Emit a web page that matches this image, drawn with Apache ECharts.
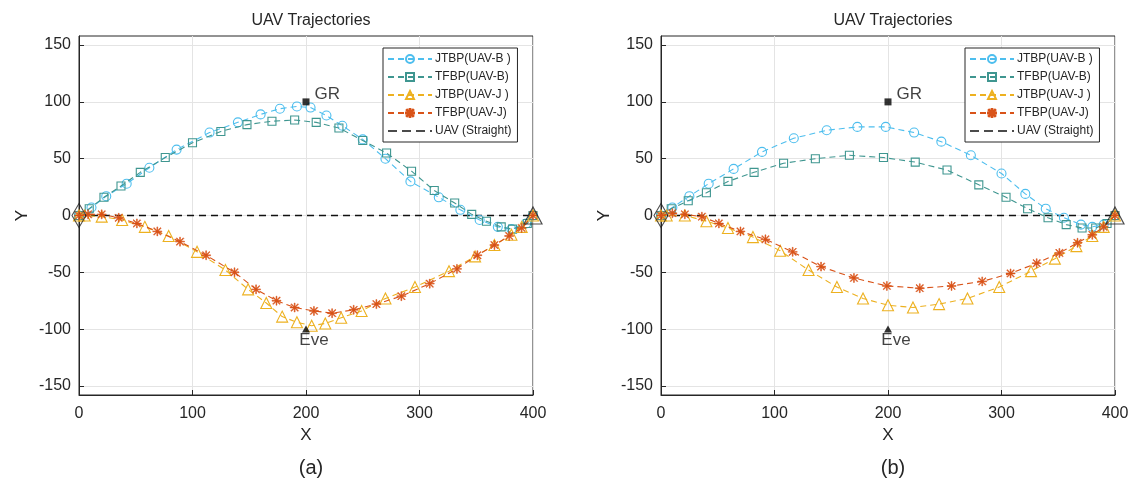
<!DOCTYPE html>
<html>
<head>
<meta charset="utf-8">
<script src="https://cdn.jsdelivr.net/npm/echarts@6/dist/echarts.min.js"></script>
<style>html,body{margin:0;padding:0;background:#fff}#c{width:1134px;height:487px}</style>
</head>
<body>
<div id="c"></div>
<script>
// ---- data ----
var seriesNames = ['JTBP(UAV-B )', 'TFBP(UAV-B)', 'JTBP(UAV-J )', 'TFBP(UAV-J)', 'UAV (Straight)'];
var xTicks = [0, 100, 200, 300, 400];
var yTicks = [-150, -100, -50, 0, 50, 100, 150];
var panelLabels = ['(a)', '(b)'];

// panel (a)
var jtbpB_a = [[0,0],[11,7],[24,17],[42,28],[62,42],[86,58],[115,73],[140,82],[160,89],[177,94],[192,96],[204,95],[218,88],[232,79],[250,67],[270,50],[292,30],[317,16],[336,5],[353,-4],[369,-10],[381,-12],[394,-7],[400,0]];
var tfbpB_a = [[0,0],[9,6],[22,16],[37,26],[54,38],[76,51],[100,64],[125,74],[148,80],[170,83],[190,84],[209,82],[229,77],[250,66],[271,55],[293,39],[313,22],[331,11],[346,1],[359,-5],[372,-10],[382,-12],[395,-7],[400,0]];
var jtbpJ_a = [[0,0],[5,0],[20,-1],[38,-4],[58,-10],[79,-18],[104,-32],[129,-48],[149,-65],[165,-77],[179,-89],[192,-94],[205,-97],[217,-95],[231,-90],[249,-84],[270,-73],[296,-63],[326,-49],[349,-36],[366,-26],[381,-17],[390,-10],[400,0]];
var tfbpJ_a = [[0,0],[8,1],[20,1],[35,-2],[51,-7],[69,-14],[89,-23],[112,-35],[137,-50],[156,-65],[174,-75],[190,-81],[207,-84],[223,-86],[242,-83],[262,-78],[284,-71],[309,-60],[333,-47],[351,-35],[366,-26],[379,-18],[390,-11],[400,0]];

// panel (b)
var jtbpB_b = [[0,0],[10,7],[25,17],[42,28],[64,41],[89,56],[117,68],[146,75],[173,78],[198,78],[223,73],[247,65],[273,53],[300,37],[321,19],[339,6],[355,-2],[370,-8],[380,-10],[390,-8],[400,0]];
var tfbpB_b = [[0,0],[9,6],[24,13],[40,20],[59,30],[82,38],[108,46],[136,50],[166,53],[196,51],[224,47],[252,40],[280,27],[304,16],[323,6],[341,-2],[357,-8],[371,-11],[383,-11],[393,-7],[400,0]];
var jtbpJ_b = [[0,0],[5,0],[21,0],[40,-5],[59,-11],[81,-19],[105,-31],[130,-48],[155,-63],[178,-73],[200,-79],[222,-81],[245,-78],[270,-73],[298,-63],[326,-49],[347,-38],[366,-27],[380,-18],[390,-10],[400,0]];
var tfbpJ_b = [[0,0],[10,2],[21,1],[36,-1],[51,-7],[70,-14],[92,-21],[116,-32],[141,-45],[170,-55],[199,-62],[228,-64],[256,-62],[283,-58],[308,-51],[331,-42],[351,-33],[367,-24],[380,-17],[390,-10],[400,0]];

var straightLine = [[0,0],[400,0]];
var startPoint = [[0,0]];
var endPoint = [[400,0]];
var grPoint = [[200,100]];
var evePoint = [[200,-100]];

// ---- styling ----
var colors = ['#4DBEEE', '#3f9690', '#EDB120', '#D95319', '#1a1a1a'];
var symbols = ['circle', 'rect', 'triangle', 'path://M9 0L11 0L11 20L9 20ZM0 9L20 9L20 11L0 11ZM1.4 2.8L2.8 1.4L18.6 17.2L17.2 18.6ZM17.2 1.4L18.6 2.8L2.8 18.6L1.4 17.2Z', 'none'];
var symSizes = [9, 8, 11, 9, 0];
var txt = '#262626';
var font = 'Liberation Sans, Arial, Helvetica, sans-serif';
var dashIcon = 'path://M0 0L0.01 0L0 0.01ZM0 10L0.01 10L0 9.99ZM0 4.3L9 4.3L9 5.7L0 5.7ZM14 4.3L23 4.3L23 5.7L14 5.7ZM28 4.3L37 4.3L37 5.7L28 5.7ZM42 4.3L44 4.3L44 5.7L42 5.7ZM44 0L44 0.01L43.99 0Z';

var panels = [
  {left: 79, data: [jtbpB_a, tfbpB_a, jtbpJ_a, tfbpJ_a]},
  {left: 661, data: [jtbpB_b, tfbpB_b, jtbpJ_b, tfbpJ_b]}
];
var gridTop = 36, gridH = 359, gridW = 454;

var legendData = seriesNames.map(function (n, k) {
  return k === 4 ? {name: n, icon: dashIcon} : {name: n};
});

var grids = [], xAxes = [], yAxes = [], series = [], legends = [], titles = [];
panels.forEach(function (p, i) {
  grids.push({left: p.left, top: gridTop, width: gridW, height: gridH, show: true, borderColor: txt, borderWidth: 1, backgroundColor: '#fff'});
  xAxes.push({
    type: 'value', gridIndex: i, min: 0, max: 400, interval: 100,
    name: 'X', nameLocation: 'middle', nameGap: 32,
    nameTextStyle: {color: txt, fontSize: 17, fontFamily: font},
    axisLine: {show: true, onZero: false, lineStyle: {color: txt}},
    axisTick: {show: true, inside: true, length: 5, lineStyle: {color: txt}},
    axisLabel: {color: txt, fontSize: 16, fontFamily: font, margin: 11},
    splitLine: {show: true, lineStyle: {color: '#e4e4e4', width: 1}}
  });
  yAxes.push({
    type: 'value', gridIndex: i, min: -158, max: 158,
    name: 'Y', nameLocation: 'middle', nameGap: 48, nameRotate: 90,
    nameTextStyle: {color: txt, fontSize: 17, fontFamily: font},
    axisLine: {show: true, onZero: false, lineStyle: {color: txt}},
    axisTick: {show: true, inside: true, length: 5, lineStyle: {color: txt}, customValues: yTicks},
    axisLabel: {color: txt, fontSize: 16, fontFamily: font, margin: 8, customValues: yTicks, showMinLabel: true, showMaxLabel: true},
    splitLine: {show: true, lineStyle: {color: '#e4e4e4', width: 1}}
  });
  titles.push({text: 'UAV Trajectories', left: p.left + gridW / 2, top: 8, textAlign: 'center',
    textStyle: {color: txt, fontSize: 16, fontWeight: 'normal', fontFamily: font}});
  titles.push({text: panelLabels[i], left: p.left + gridW / 2, top: 453, textAlign: 'center',
    textStyle: {color: txt, fontSize: 20, fontWeight: 'normal', fontFamily: font}});
  legends.push({
    orient: 'vertical', left: p.left + 304, top: 48,
    data: legendData,
    itemWidth: 44, itemHeight: 10, itemGap: 6,
    padding: [5, 6, 5, 4],
    borderColor: txt, borderWidth: 1, borderRadius: 0, backgroundColor: '#fff',
    textStyle: {color: txt, fontSize: 12, fontFamily: font, padding: [0, 0, 0, -2]}
  });
  p.data.forEach(function (d, k) {
    series.push({
      name: seriesNames[k], type: 'line', xAxisIndex: i, yAxisIndex: i, data: d,
      symbol: symbols[k], symbolSize: symSizes[k], showAllSymbol: true,
      lineStyle: {color: colors[k], width: 1.1, type: [6, 4]},
      itemStyle: {color: k === 3 ? colors[k] : 'rgba(255,255,255,0)', borderColor: colors[k], borderWidth: k === 3 ? 0.5 : 1.1},
      emphasis: {disabled: true}, animation: false, z: 3 + k
    });
  });
  series.push({
    name: seriesNames[4], type: 'line', xAxisIndex: i, yAxisIndex: i, data: straightLine,
    symbol: 'none', lineStyle: {color: '#111', width: 1.4, type: [7, 5]},
    itemStyle: {color: '#111'}, emphasis: {disabled: true}, animation: false, z: 2
  });
  series.push({
    type: 'scatter', xAxisIndex: i, yAxisIndex: i, data: startPoint,
    symbol: 'diamond', symbolSize: [14, 24],
    itemStyle: {color: 'rgba(255,255,255,0)', borderColor: '#222', borderWidth: 1.2},
    emphasis: {disabled: true}, animation: false, z: 10
  });
  series.push({
    type: 'scatter', xAxisIndex: i, yAxisIndex: i, data: endPoint,
    symbol: 'triangle', symbolSize: [18, 17],
    itemStyle: {color: 'rgba(255,255,255,0)', borderColor: '#222', borderWidth: 1.2},
    emphasis: {disabled: true}, animation: false, z: 10
  });
  series.push({
    type: 'scatter', xAxisIndex: i, yAxisIndex: i, data: grPoint,
    symbol: 'rect', symbolSize: 7, itemStyle: {color: '#000'},
    label: {show: true, formatter: 'GR', position: 'right', distance: 5, offset: [0, -8], color: '#111', fontSize: 17, fontFamily: font},
    emphasis: {disabled: true}, animation: false, z: 10
  });
  series.push({
    type: 'scatter', xAxisIndex: i, yAxisIndex: i, data: evePoint,
    symbol: 'triangle', symbolSize: [8, 7], itemStyle: {color: '#000'},
    label: {show: true, formatter: 'Eve', position: 'bottom', distance: 0, offset: [8, -1], color: '#111', fontSize: 17, fontFamily: font},
    emphasis: {disabled: true}, animation: false, z: 10
  });
});

var chart = echarts.init(document.getElementById('c'), null, {renderer: 'canvas'});
chart.setOption({
  backgroundColor: '#fff',
  animation: false,
  title: titles,
  grid: grids,
  xAxis: xAxes,
  yAxis: yAxes,
  legend: legends,
  series: series
});
</script>
</body>
</html>
